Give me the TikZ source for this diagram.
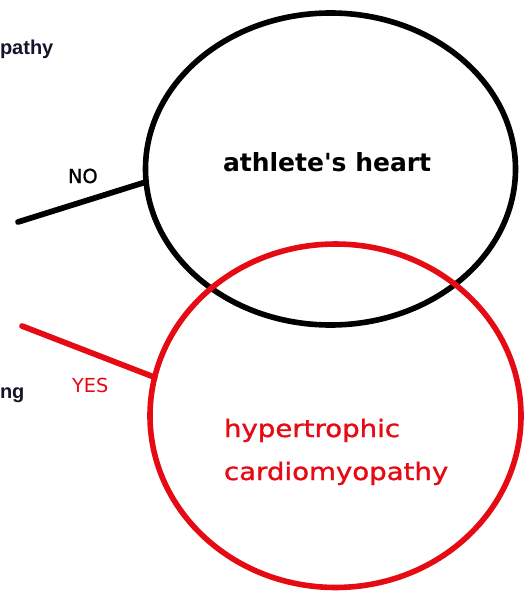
\documentclass[tikz,border=0pt]{standalone}
\usepackage{fontspec}
\setmainfont{DejaVu Sans}
\newfontfamily\stretchfont[FakeStretch=1.15,FakeBold=1.2]{DejaVu Sans}
\newfontfamily\arialfont{Liberation Sans}
\newfontfamily\medfont[FakeBold=0.8]{DejaVu Sans}
\newfontfamily\heartfont[Ligatures=TeXOff]{DejaVu Sans}
\usetikzlibrary{shapes.geometric}
\definecolor{vred}{RGB}{230,10,20}
\tikzset{
  circ/.style={ellipse, draw, line width=4.2pt, inner sep=0pt, outer sep=0pt},
  conn/.style={line width=4.3pt, line cap=round},
  lbl/.style={anchor=base west, inner sep=0pt, outer sep=0pt},
  cutlbl/.style={anchor=base west, inner sep=0pt, outer sep=0pt, font=\arialfont\bfseries\fontsize{15}{18}\selectfont, text={rgb,255:red,20;green,20;blue,45}},
}
\begin{document}
\begin{tikzpicture}[x=0.75pt, y=-0.75pt]
\useasboundingbox[fill=white] (0,0) rectangle (525,592);
% circles
\node[circ, draw=black, minimum width=277.5pt, minimum height=234pt] (heart) at (330.5,169) {};
\node[circ, draw=vred, minimum width=278.25pt, minimum height=257.6pt] (hcm) at (335.5,415.75) {};
% texts in circles
\node[lbl, font=\heartfont\bfseries\fontsize{18.75}{22}\selectfont] (hearttext) at (223,171.7) {athlete's heart};
\node[lbl, text=vred, font=\stretchfont\fontsize{18}{22}\selectfont] (hcm1) at (224,437) {hypertrophic};
\node[lbl, text=vred, font=\stretchfont\fontsize{18}{22}\selectfont] (hcm2) at (224,480) {cardiomyopathy};
% cut-off texts at left
\node[cutlbl] (pathy) at (0,55) {pathy};
\node[cutlbl] (ng) at (0,398) {ng};
% connectors
\coordinate (noend) at (18,222);
\coordinate (yesend) at (22,326);
\draw[conn, black] (noend) -- (heart.184);
\draw[conn, vred] (yesend) -- (hcm.168);
% connector labels
\node[lbl, font=\medfont\fontsize{14.5}{17}\selectfont] (no) at (68,183) {NO};
\node[lbl, text=vred, font=\fontsize{14.5}{17}\selectfont] (yes) at (72,392) {YES};
\end{tikzpicture}
\end{document}
